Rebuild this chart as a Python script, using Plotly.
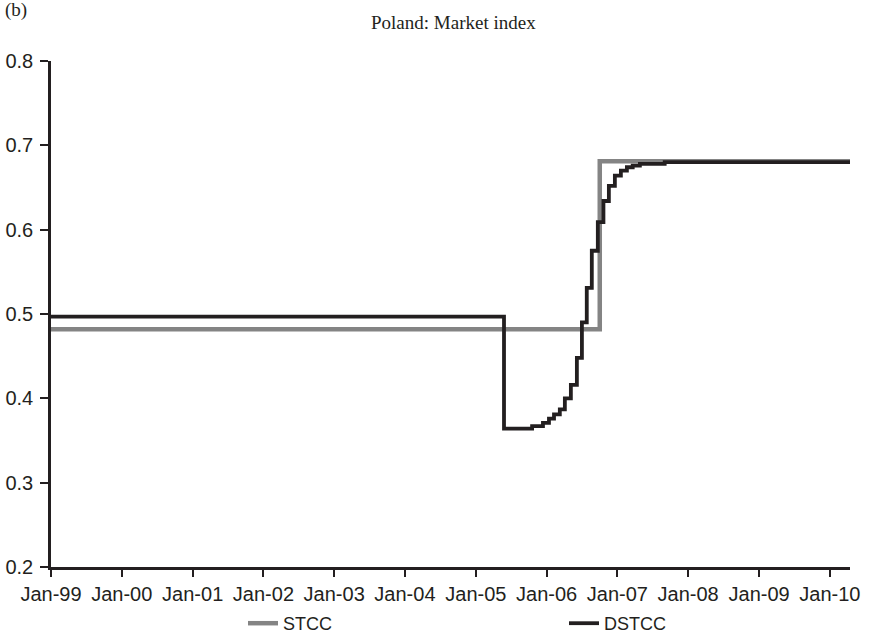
import plotly.graph_objects as go

# STCC (grey) step series
stcc_dates = ["1999-01-01", "2006-10-02", "2010-04-15"]
stcc_values = [0.482, 0.681, 0.681]

# DSTCC (black) step series
dstcc_dates = [
    "1999-01-01", "2005-05-26", "2005-10-18", "2005-12-13", "2006-01-13",
    "2006-02-08", "2006-03-10", "2006-04-05", "2006-05-06", "2006-06-06",
    "2006-07-02", "2006-07-27", "2006-08-22", "2006-09-22", "2006-10-21",
    "2006-11-18", "2006-12-19", "2007-01-19", "2007-02-19", "2007-03-21",
    "2007-04-27", "2007-09-02", "2010-04-15",
]
dstcc_values = [
    0.497, 0.364, 0.367, 0.371, 0.376,
    0.381, 0.387, 0.400, 0.416, 0.448,
    0.490, 0.531, 0.575, 0.609, 0.634,
    0.652, 0.664, 0.670, 0.674, 0.676,
    0.678, 0.680, 0.680,
]

tick_dates = ["%d-01-01" % y for y in range(1999, 2011)]
tick_labels = ["Jan-99", "Jan-00", "Jan-01", "Jan-02", "Jan-03", "Jan-04",
               "Jan-05", "Jan-06", "Jan-07", "Jan-08", "Jan-09", "Jan-10"]
y_ticks = [0.2, 0.3, 0.4, 0.5, 0.6, 0.7, 0.8]

W, H = 877, 640
L, R, T, B = 51, 27, 61, 73
PW, PH = W - L - R, H - T - B

fig = go.Figure()
fig.add_trace(go.Scatter(x=stcc_dates, y=stcc_values, mode="lines", name="STCC",
                         line=dict(color="#848484", width=4.5, shape="hv")))
fig.add_trace(go.Scatter(x=dstcc_dates, y=dstcc_values, mode="lines", name="DSTCC",
                         line=dict(color="#231f20", width=3.8, shape="hv")))

sans = "Liberation Sans, Arial, sans-serif"
serif = "Liberation Serif, Times New Roman, serif"

fig.update_layout(
    width=W, height=H,
    margin=dict(l=L, r=R, t=T, b=B, autoexpand=False),
    paper_bgcolor="white", plot_bgcolor="white",
    font=dict(family=sans, size=18, color="#231f20"),
    showlegend=True,
    legend=dict(orientation="h", x=(243 - L) / PW, xanchor="left",
                y=-(605 - (H - B)) / PH, yanchor="top",
                entrywidth=276, entrywidthmode="pixels",
                font=dict(family=sans, size=18, color="#231f20"),
                itemwidth=30, tracegroupgap=0, bgcolor="rgba(0,0,0,0)"),
    annotations=[
        dict(text="Poland: Market index", x=(453 - L) / PW, y=1 + (T - 22) / PH,
             xref="paper", yref="paper", xanchor="center", yanchor="middle",
             showarrow=False, font=dict(family=serif, size=19, color="#231f20")),
        dict(text="(b)", x=(3 - L) / PW, y=1 + (T - 10) / PH,
             xref="paper", yref="paper", xanchor="left", yanchor="middle",
             showarrow=False, font=dict(family=serif, size=19, color="#231f20")),
    ],
)

fig.update_xaxes(
    type="date", range=["1999-01-01", "2010-04-15"], automargin=False,
    tickvals=tick_dates, ticktext=tick_labels,
    showgrid=False, zeroline=False,
    showline=True, linecolor="#231f20", linewidth=2.5,
    ticks="outside", ticklen=7, tickwidth=2, tickcolor="#231f20",
    tickfont=dict(family=sans, size=20, color="#231f20"),
)
fig.update_yaxes(
    range=[0.2, 0.8], tickvals=y_ticks, tickformat=".1f", automargin=False,
    showgrid=False, zeroline=False,
    showline=True, linecolor="#231f20", linewidth=2.5,
    ticks="outside", ticklen=8, tickwidth=2, tickcolor="#231f20",
    ticklabelstandoff=3,
    tickfont=dict(family=sans, size=20, color="#231f20"),
)

fig.write_html("out.html", config={"displayModeBar": False},
               post_script="document.body.style.margin='0px';")
